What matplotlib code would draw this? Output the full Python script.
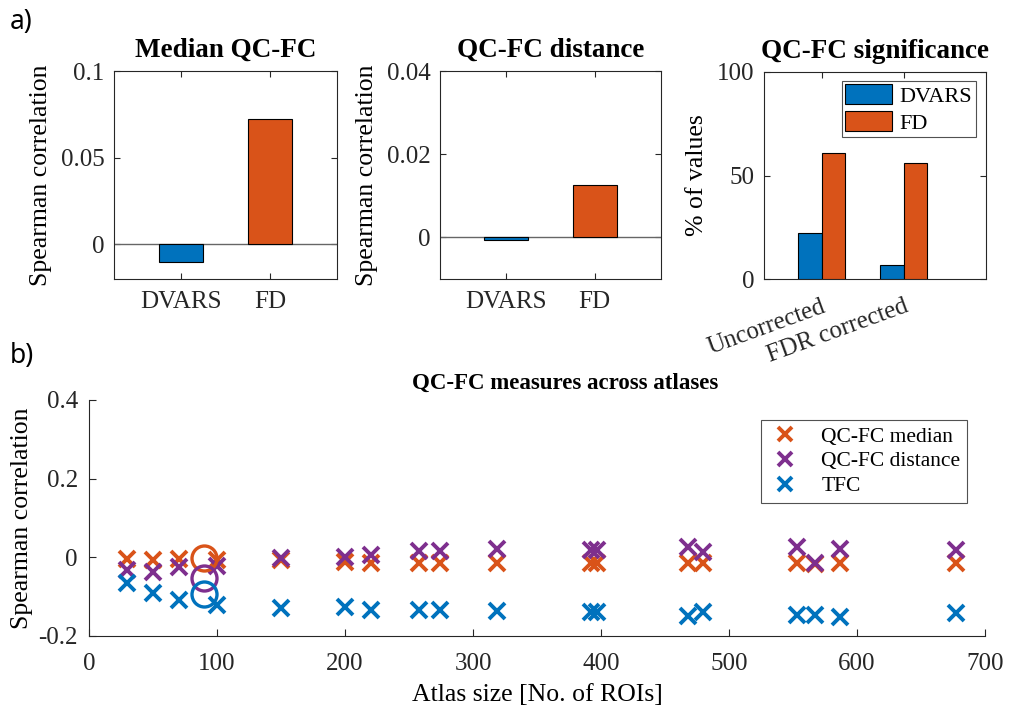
import matplotlib
matplotlib.use("Agg")
import matplotlib.pyplot as plt
import numpy as np

# ---- data ----
measures = ['DVARS', 'FD']
median_qcfc = [-0.010, 0.0724]
dist_qcfc = [-0.0006, 0.0125]

sig_groups = ['Uncorrected', 'FDR corrected']
sig_dvars = [22, 7]
sig_fd = [61, 56]

atlas_size = [30, 50, 70, 100, 150, 200, 220, 258, 274, 319, 392, 397, 468, 480, 553, 567, 587, 677]
atlas_median = [-0.004, -0.008, -0.004, -0.008, -0.008, -0.012, -0.014, -0.014, -0.014, -0.014,
                -0.014, -0.014, -0.014, -0.014, -0.014, -0.016, -0.014, -0.014]
atlas_dist = [-0.033, -0.037, -0.025, -0.023, -0.002, 0.001, 0.007, 0.015, 0.015, 0.020,
              0.018, 0.018, 0.026, 0.013, 0.026, -0.014, 0.021, 0.018]
atlas_tfc = [-0.065, -0.090, -0.109, -0.120, -0.129, -0.126, -0.133, -0.135, -0.133, -0.137,
             -0.140, -0.140, -0.148, -0.139, -0.147, -0.146, -0.151, -0.141]

# highlighted atlas (circles)
hl_size = [89.5]
hl_median = [-0.002]
hl_dist = [-0.052]
hl_tfc = [-0.092]

BLUE = '#0072BD'
ORANGE = '#D95319'
PURPLE = '#7E2F8E'
AX_COL = '#262626'

plt.rcParams['font.family'] = ['Liberation Serif', 'DejaVu Serif']
plt.rcParams['axes.edgecolor'] = AX_COL
plt.rcParams['xtick.color'] = AX_COL
plt.rcParams['ytick.color'] = AX_COL
plt.rcParams['axes.linewidth'] = 0.8

W, H = 1009, 711
fig = plt.figure(figsize=(W / 100, H / 100), dpi=100)

def px_axes(l, t, r, b):
    return fig.add_axes([l / W, 1 - b / H, (r - l) / W, (b - t) / H])

def style_box(ax):
    ax.tick_params(direction='in', top=True, right=True, labelsize=18, length=4, width=0.8)
    ax.tick_params(axis='x', pad=9)
    ax.tick_params(axis='y', pad=7)

def bar_panel(ax, vals, title, ylim, yticks, yticklabels):
    x = np.arange(1, len(vals) + 1)
    ax.bar(x, vals, width=0.5, color=[BLUE, ORANGE], edgecolor='black', linewidth=0.8, zorder=3)
    ax.axhline(0, color='#666666', linewidth=1.0, zorder=2)
    ax.set_xlim(0.25, 2.75)
    ax.set_ylim(*ylim)
    ax.set_xticks(x)
    ax.set_xticklabels(measures)
    ax.set_yticks(yticks)
    ax.set_yticklabels(yticklabels)
    ax.set_ylabel('Spearman correlation', fontsize=18.5, color='black', labelpad=6)
    ax.set_title(title, fontsize=19.5, fontweight='bold', pad=10)
    style_box(ax)

# panel a1
ax1 = px_axes(114, 71, 337, 279)
bar_panel(ax1, median_qcfc, 'Median QC-FC', (-0.02, 0.1), [0, 0.05, 0.1], ['0', '0.05', '0.1'])

# panel a2
ax2 = px_axes(440, 71, 661, 279)
bar_panel(ax2, dist_qcfc, 'QC-FC distance', (-0.01, 0.04), [0, 0.02, 0.04], ['0', '0.02', '0.04'])

# panel a3
ax3 = px_axes(764, 72, 986, 279)
gx = np.arange(1, len(sig_groups) + 1)
bw = 0.285
ax3.bar(gx - bw / 2, sig_dvars, width=bw, color=BLUE, edgecolor='black', linewidth=0.8, label='DVARS', zorder=3)
ax3.bar(gx + bw / 2, sig_fd, width=bw, color=ORANGE, edgecolor='black', linewidth=0.8, label='FD', zorder=3)
ax3.set_xlim(0.3, 3.0)
ax3.set_ylim(0, 100)
ax3.set_yticks([0, 50, 100])
ax3.set_xticks(gx)
ax3.set_xticklabels(sig_groups, rotation=20, ha='right', va='top', rotation_mode='anchor')
ax3.set_ylabel('% of values', fontsize=18.5, color='black', labelpad=6)
ax3.set_title('QC-FC significance', fontsize=19.5, fontweight='bold', pad=10)
style_box(ax3)
ax3.tick_params(axis='x', pad=12)
leg = ax3.legend(loc='upper right', bbox_to_anchor=(0.953, 0.957), borderaxespad=0, fontsize=16,
                 frameon=True, fancybox=False, edgecolor=AX_COL, handlelength=2.1, handleheight=1.0,
                 borderpad=0.15, labelspacing=0.2, handletextpad=0.35)
leg.get_frame().set_linewidth(0.8)

# panel b
axb = px_axes(89, 400, 985, 636)
mk = dict(markersize=11, markeredgewidth=2.8, linestyle='none')
axb.plot(atlas_size, atlas_median, 'x', color=ORANGE, label='QC-FC median', **mk)
axb.plot(atlas_size, atlas_dist, 'x', color=PURPLE, label='QC-FC distance', **mk)
axb.plot(atlas_size, atlas_tfc, 'x', color=BLUE, label='TFC', **mk)
ck = dict(mfc='none', markersize=18, markeredgewidth=2.4, linestyle='none')
axb.plot(hl_size, hl_median, 'o', mec=ORANGE, **ck)
axb.plot(hl_size, hl_dist, 'o', mec=PURPLE, **ck)
axb.plot(hl_size, hl_tfc, 'o', mec=BLUE, **ck)
axb.set_xlim(0, 700)
axb.set_ylim(-0.2, 0.4)
axb.set_xticks(range(0, 701, 100))
axb.set_yticks([-0.2, 0, 0.2, 0.4])
axb.set_yticklabels(['-0.2', '0', '0.2', '0.4'])
axb.spines['top'].set_visible(False)
axb.spines['right'].set_visible(False)
axb.tick_params(direction='in', labelsize=18, length=5, width=0.8)
axb.tick_params(axis='x', pad=12)
axb.tick_params(axis='y', pad=8)
axb.set_xlabel('Atlas size [No. of ROIs]', fontsize=18.5, color='black', labelpad=7)
axb.set_ylabel('Spearman correlation', fontsize=18.5, color='black', labelpad=4)
axb.set_title('QC-FC measures across atlases', fontsize=16.5, fontweight='bold', x=0.531, pad=8)
legb = axb.legend(loc='upper right', bbox_to_anchor=(0.98, 0.915), borderaxespad=0, fontsize=15.5,
                  frameon=True, fancybox=False, edgecolor=AX_COL, borderpad=0.3, labelspacing=0.22,
                  handletextpad=0.9, handlelength=1.6, markerscale=0.95)
legb.get_frame().set_linewidth(0.8)

fig.text(10 / W, 1 - 22 / H, 'a)', fontsize=19, family='Noto Sans', va='center', ha='left')
fig.text(10 / W, 1 - 356 / H, 'b)', fontsize=19, family='Noto Sans', va='center', ha='left')

fig.savefig('out.png', dpi=100, facecolor='white')
